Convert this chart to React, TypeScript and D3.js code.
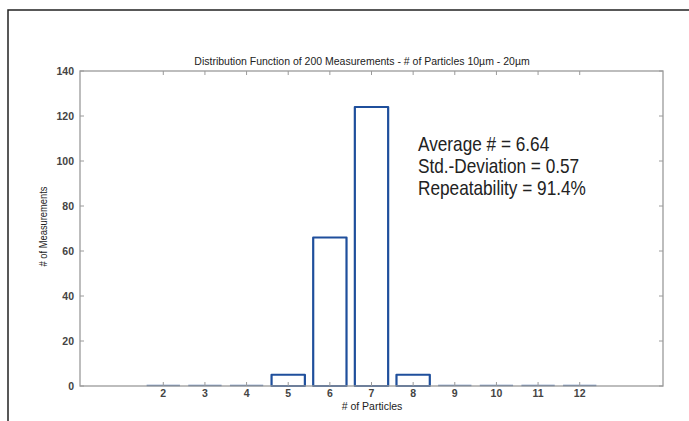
import React from "react";
import * as d3 from "d3";

const width = 689;
const height = 421;

// particle counts (bin centres) and number of measurements in each
const particles = [2, 3, 4, 5, 6, 7, 8, 9, 10, 11, 12];
const measurements = [0, 0, 0, 5, 66, 124, 5, 0, 0, 0, 0];
const yTicks = [0, 20, 40, 60, 80, 100, 120, 140];
const statLines = ["Average # = 6.64", "Std.-Deviation = 0.57", "Repeatability = 91.4%"];

const plot = {left: 80, right: 663, top: 71, bottom: 386};
const axisColor = "#9a9a9a";
const barColor = "#1f4f9c";

function App() {
    const x = d3.scaleLinear().domain([0, 14]).range([plot.left, plot.right]);
    const y = d3.scaleLinear().domain([0, 140]).range([plot.bottom, plot.top]);
    const barW = x(0.8) - x(0);

    return (
        <svg width={width} height={height}
             style={{position: "absolute", left: 0, top: 0, background: "#fff"}}
             fontFamily="Liberation Sans, Arial, sans-serif">
            {/* outer frame */}
            <path d={`M8,${height} V10 H${width}`} fill="none" stroke="#222" strokeWidth={1.5}/>

            <text x={362} y={65} textAnchor="middle" fontSize={10.5} fill="#222">
                Distribution Function of 200 Measurements - # of Particles 10µm - 20µm
            </text>

            {/* bars */}
            {particles.map((p, i) => (
                measurements[i] > 0 ? (
                    <rect key={p} x={x(p) - barW / 2} y={y(measurements[i])}
                          width={barW} height={y(0) - y(measurements[i])}
                          fill="#fff" stroke={barColor} strokeWidth={2.2}
                          strokeLinejoin="round"/>
                ) : (
                    <line key={p} x1={x(p) - barW / 2} x2={x(p) + barW / 2}
                          y1={y(0) - 0.5} y2={y(0) - 0.5} stroke="#5b7cb0" strokeWidth={1.5}/>
                )
            ))}

            {/* axes box */}
            <rect x={plot.left} y={plot.top} width={plot.right - plot.left} height={plot.bottom - plot.top}
                  fill="none" stroke={axisColor} strokeWidth={1.3}/>

            {particles.map(p => (
                <g key={p}>
                    <line x1={x(p)} x2={x(p)} y1={plot.bottom} y2={plot.bottom - 4} stroke={axisColor}/>
                    <line x1={x(p)} x2={x(p)} y1={plot.top} y2={plot.top + 4} stroke={axisColor}/>
                    <text x={x(p)} y={plot.bottom + 11} textAnchor="middle" fontSize={10.5}
                          fontWeight={600} fill="#444">{p}</text>
                </g>
            ))}

            {yTicks.map(t => (
                <g key={t}>
                    <line x1={plot.left} x2={plot.left + 4} y1={y(t)} y2={y(t)} stroke={axisColor}/>
                    <line x1={plot.right} x2={plot.right - 4} y1={y(t)} y2={y(t)} stroke={axisColor}/>
                    <text x={plot.left - 6} y={y(t) + 4} textAnchor="end" fontSize={10.5}
                          fontWeight={600} fill="#444">{t}</text>
                </g>
            ))}

            <text x={372} y={410} textAnchor="middle" fontSize={10.5} fill="#222">
                # of Particles
            </text>
            <text transform={`translate(47,${(plot.top + plot.bottom) / 2 - 2}) rotate(-90) scale(0.85,1)`}
                  textAnchor="middle" fontSize={11} fill="#222">
                # of Measurements
            </text>

            {statLines.map((s, i) => (
                <text key={s} transform={`translate(418,${151 + i * 22}) scale(0.82,1)`}
                      fontSize={21} fill="#222">
                    {s}
                </text>
            ))}
        </svg>
    );
}

export default App;
